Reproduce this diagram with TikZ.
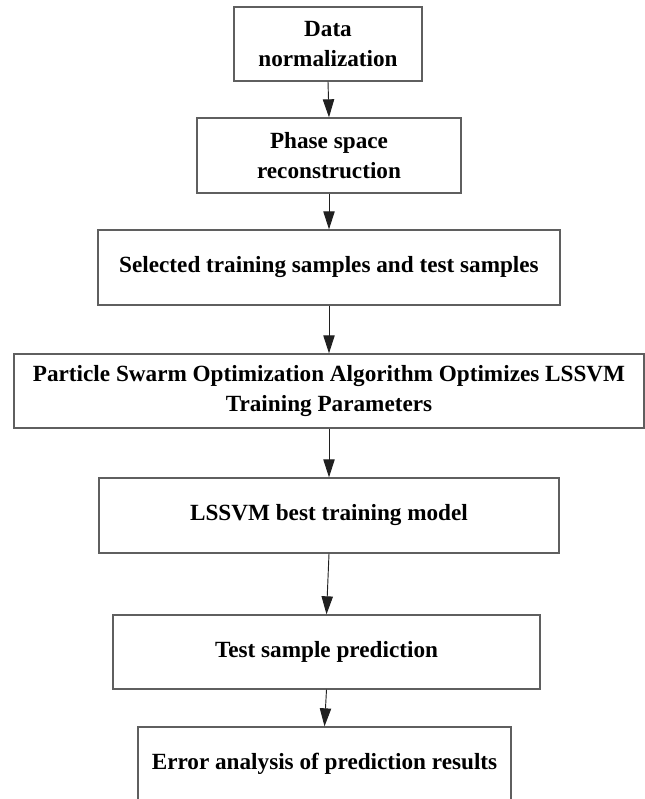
\documentclass[tikz,border=0pt]{standalone}
\usepackage{fontspec}
\setmainfont{Liberation Serif}
\usetikzlibrary{arrows.meta}
\definecolor{boxline}{HTML}{5F5F5F}
\definecolor{arrline}{HTML}{202020}
\tikzset{
  stepbox/.style={draw=boxline, line width=1pt, inner sep=0pt, align=center,
    font=\fontsize{17.4pt}{23pt}\selectfont\bfseries, text=black},
  flowarrow/.style={draw=arrline, line width=0.7pt,
    -{Triangle[length=13.5pt,width=8.5pt]}}
}
\begin{document}
\begin{tikzpicture}[x=0.75pt,y=-0.75pt]
\useasboundingbox (0,0) rectangle (645,799);
\clip (0,0) rectangle (645,799);
\fill[white] (0,0) rectangle (645,799);
\node[stepbox, minimum width={188*0.75pt}, minimum height={74*0.75pt}] (b1) at (328,44) {Data\\normalization};
\node[stepbox, minimum width={264*0.75pt}, minimum height={75*0.75pt}] (b2) at (329,155.5) {Phase space\\reconstruction};
\node[stepbox, minimum width={462*0.75pt}, minimum height={75*0.75pt}] (b3) at (329,267.5) {Selected training samples and test samples};
\node[stepbox, minimum width={630*0.75pt}, minimum height={74*0.75pt}] (b4) at (329,391) {Particle Swarm Optimization Algorithm Optimizes LSSVM\\Training Parameters};
\node[stepbox, minimum width={460*0.75pt}, minimum height={75*0.75pt}] (b5) at (329,515.5) {LSSVM best training model};
\node[stepbox, minimum width={427*0.75pt}, minimum height={74*0.75pt}] (b6) at (326.5,652) {Test sample prediction};
\node[stepbox, minimum width={373*0.75pt}, minimum height={74*0.75pt}] (b7) at (324.5,764) {Error analysis of prediction results};
\draw[flowarrow] (b1.south) -- (b2.north);
\draw[flowarrow] (b2.south) -- (b3.north);
\draw[flowarrow] (b3.south) -- (b4.north);
\draw[flowarrow] (b4.south) -- (b5.north);
\draw[flowarrow] (b5.south) -- (b6.north);
\draw[flowarrow] (b6.south) -- (b7.north);
\end{tikzpicture}
\end{document}
